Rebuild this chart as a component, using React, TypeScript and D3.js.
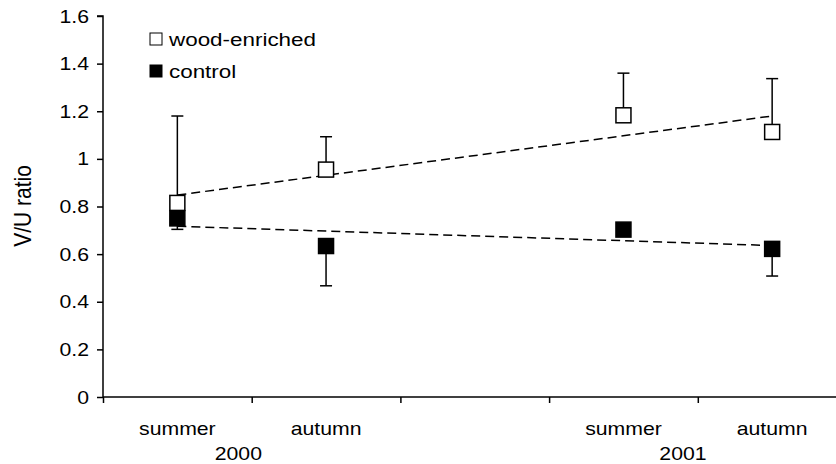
import React, { useEffect, useRef } from 'react';
import * as d3 from 'd3';

// category slots on the x axis (slot 2 is empty in the original)
const seasons = ['summer', 'autumn', 'summer', 'autumn'];
const slots = [0.5, 1.5, 3.5, 4.5];
const years = ['2000', '2001'];
const yearPos = [0.91, 3.9];

const woodValues = [0.815, 0.955, 1.183, 1.113];
const woodUpper = [1.18, 1.093, 1.36, 1.337];
const controlValues = [0.75, 0.634, 0.703, 0.622];
const controlLower = [0.704, 0.467, 0.68, 0.508];

// dashed trend lines, start and end values
const woodTrend = [0.848, 1.18];
const controlTrend = [0.717, 0.636];

const yTicks = [0, 0.2, 0.4, 0.6, 0.8, 1, 1.2, 1.4, 1.6];

export default function App() {
    const ref = useRef<SVGSVGElement | null>(null);

    useEffect(() => {
        const width = 836, height = 464;
        const margin = { top: 16, left: 103 };
        const bottom = 397;
        const font = "'Liberation Sans', Arial, sans-serif";
        const fs = 18;
        const stretch = 1.18; // text in the original is a bit wider than tall

        const svg = d3.select(ref.current);
        svg.selectAll('*').remove();

        const x = d3.scaleLinear().domain([0, 5]).range([margin.left, margin.left + 5 * 148.7]);
        const y = d3.scaleLinear().domain([0, 1.6]).range([bottom, margin.top]);

        const label = (g: any, tx: number, ty: number, txt: string, anchor: string, size = fs) => {
            g.append('text')
                .attr('transform', `translate(${tx},${ty}) scale(${stretch},1)`)
                .attr('text-anchor', anchor)
                .attr('font-family', font)
                .attr('font-size', size)
                .attr('fill', '#000')
                .text(txt);
        };

        // y axis
        const yAxis = d3.axisLeft(y).tickValues(yTicks).tickSize(6).tickFormat(() => '');
        const gy = svg.append('g')
            .attr('transform', 'translate(' + margin.left + ',0)')
            .call(yAxis);
        gy.select('.domain').attr('stroke', '#000').attr('stroke-width', 1.5).attr('d', `M-6,${y(1.6)}H0V${bottom}`);
        gy.selectAll('.tick line').attr('stroke', '#000').attr('stroke-width', 1.5);
        const yl = svg.append('g');
        yTicks.forEach(t => label(yl, 89, y(t) + 6.5, String(t), 'end'));

        // x axis
        const xAxis = d3.axisBottom(x).tickValues([0, 1, 2, 3, 4]).tickSize(6).tickFormat(() => '');
        const gx = svg.append('g')
            .attr('transform', 'translate(0,' + bottom + ')')
            .call(xAxis);
        gx.select('.domain').attr('stroke', '#000').attr('stroke-width', 1.5).attr('d', `M${margin.left},0H${width}`);
        gx.selectAll('.tick line').attr('stroke', '#000').attr('stroke-width', 1.5);

        const xl = svg.append('g');
        seasons.forEach((d, i) => label(xl, x(slots[i]), 435, d, 'middle'));
        years.forEach((d, i) => label(xl, x(yearPos[i]), 460, d, 'middle'));

        // y axis title
        svg.append('text')
            .attr('transform', `translate(31,206) scale(${stretch},1) rotate(-90)`)
            .attr('text-anchor', 'middle')
            .attr('font-family', font)
            .attr('font-size', 21)
            .text('V/U ratio');

        // trend lines
        const line = d3.line<number>()
            .x((d, i) => x(i === 0 ? slots[0] : slots[slots.length - 1]))
            .y(d => y(d));
        [woodTrend, controlTrend].forEach(t => {
            svg.append('path')
                .attr('d', line(t))
                .attr('fill', 'none')
                .attr('stroke', '#000')
                .attr('stroke-width', 1.5)
                .attr('stroke-dasharray', '9,5');
        });

        // error bars
        const cap = 6;
        const bars = svg.append('g').attr('stroke', '#000').attr('stroke-width', 1.5);
        woodValues.forEach((v, i) => {
            const cx = x(slots[i]);
            bars.append('line').attr('x1', cx).attr('x2', cx).attr('y1', y(v)).attr('y2', y(woodUpper[i]));
            bars.append('line').attr('x1', cx - cap).attr('x2', cx + cap).attr('y1', y(woodUpper[i])).attr('y2', y(woodUpper[i]));
        });
        controlValues.forEach((v, i) => {
            const cx = x(slots[i]);
            bars.append('line').attr('x1', cx).attr('x2', cx).attr('y1', y(v)).attr('y2', y(controlLower[i]));
            bars.append('line').attr('x1', cx - cap).attr('x2', cx + cap).attr('y1', y(controlLower[i])).attr('y2', y(controlLower[i]));
        });

        // markers
        const s = 15;
        svg.append('g').selectAll('rect')
            .data(woodValues)
            .enter()
            .append('rect')
            .attr('x', (d, i) => x(slots[i]) - s / 2)
            .attr('y', d => y(d) - s / 2)
            .attr('width', s)
            .attr('height', s)
            .attr('fill', '#fff')
            .attr('stroke', '#000')
            .attr('stroke-width', 1.5);
        svg.append('g').selectAll('rect')
            .data(controlValues)
            .enter()
            .append('rect')
            .attr('x', (d, i) => x(slots[i]) - s / 2)
            .attr('y', d => y(d) - s / 2)
            .attr('width', s)
            .attr('height', s)
            .attr('fill', '#000')
            .attr('stroke', '#000')
            .attr('stroke-width', 1.5);

        // legend
        const legend = [
            { label: 'wood-enriched', fill: '#fff', y: 39 },
            { label: 'control', fill: '#000', y: 71 }
        ];
        const lg = svg.append('g');
        legend.forEach(l => {
            lg.append('rect')
                .attr('x', 150)
                .attr('y', l.y - 6)
                .attr('width', 12)
                .attr('height', 12)
                .attr('fill', l.fill)
                .attr('stroke', '#000')
                .attr('stroke-width', 1);
            label(lg, 169, l.y + 7, l.label, 'start', 19);
        });

        svg.attr('width', width).attr('height', height);
    }, []);

    return (
        <div style={{ position: 'absolute', left: 0, top: 0 }}>
            <svg ref={ref} width={836} height={464} style={{ display: 'block', background: '#fff' }}></svg>
        </div>
    );
}
